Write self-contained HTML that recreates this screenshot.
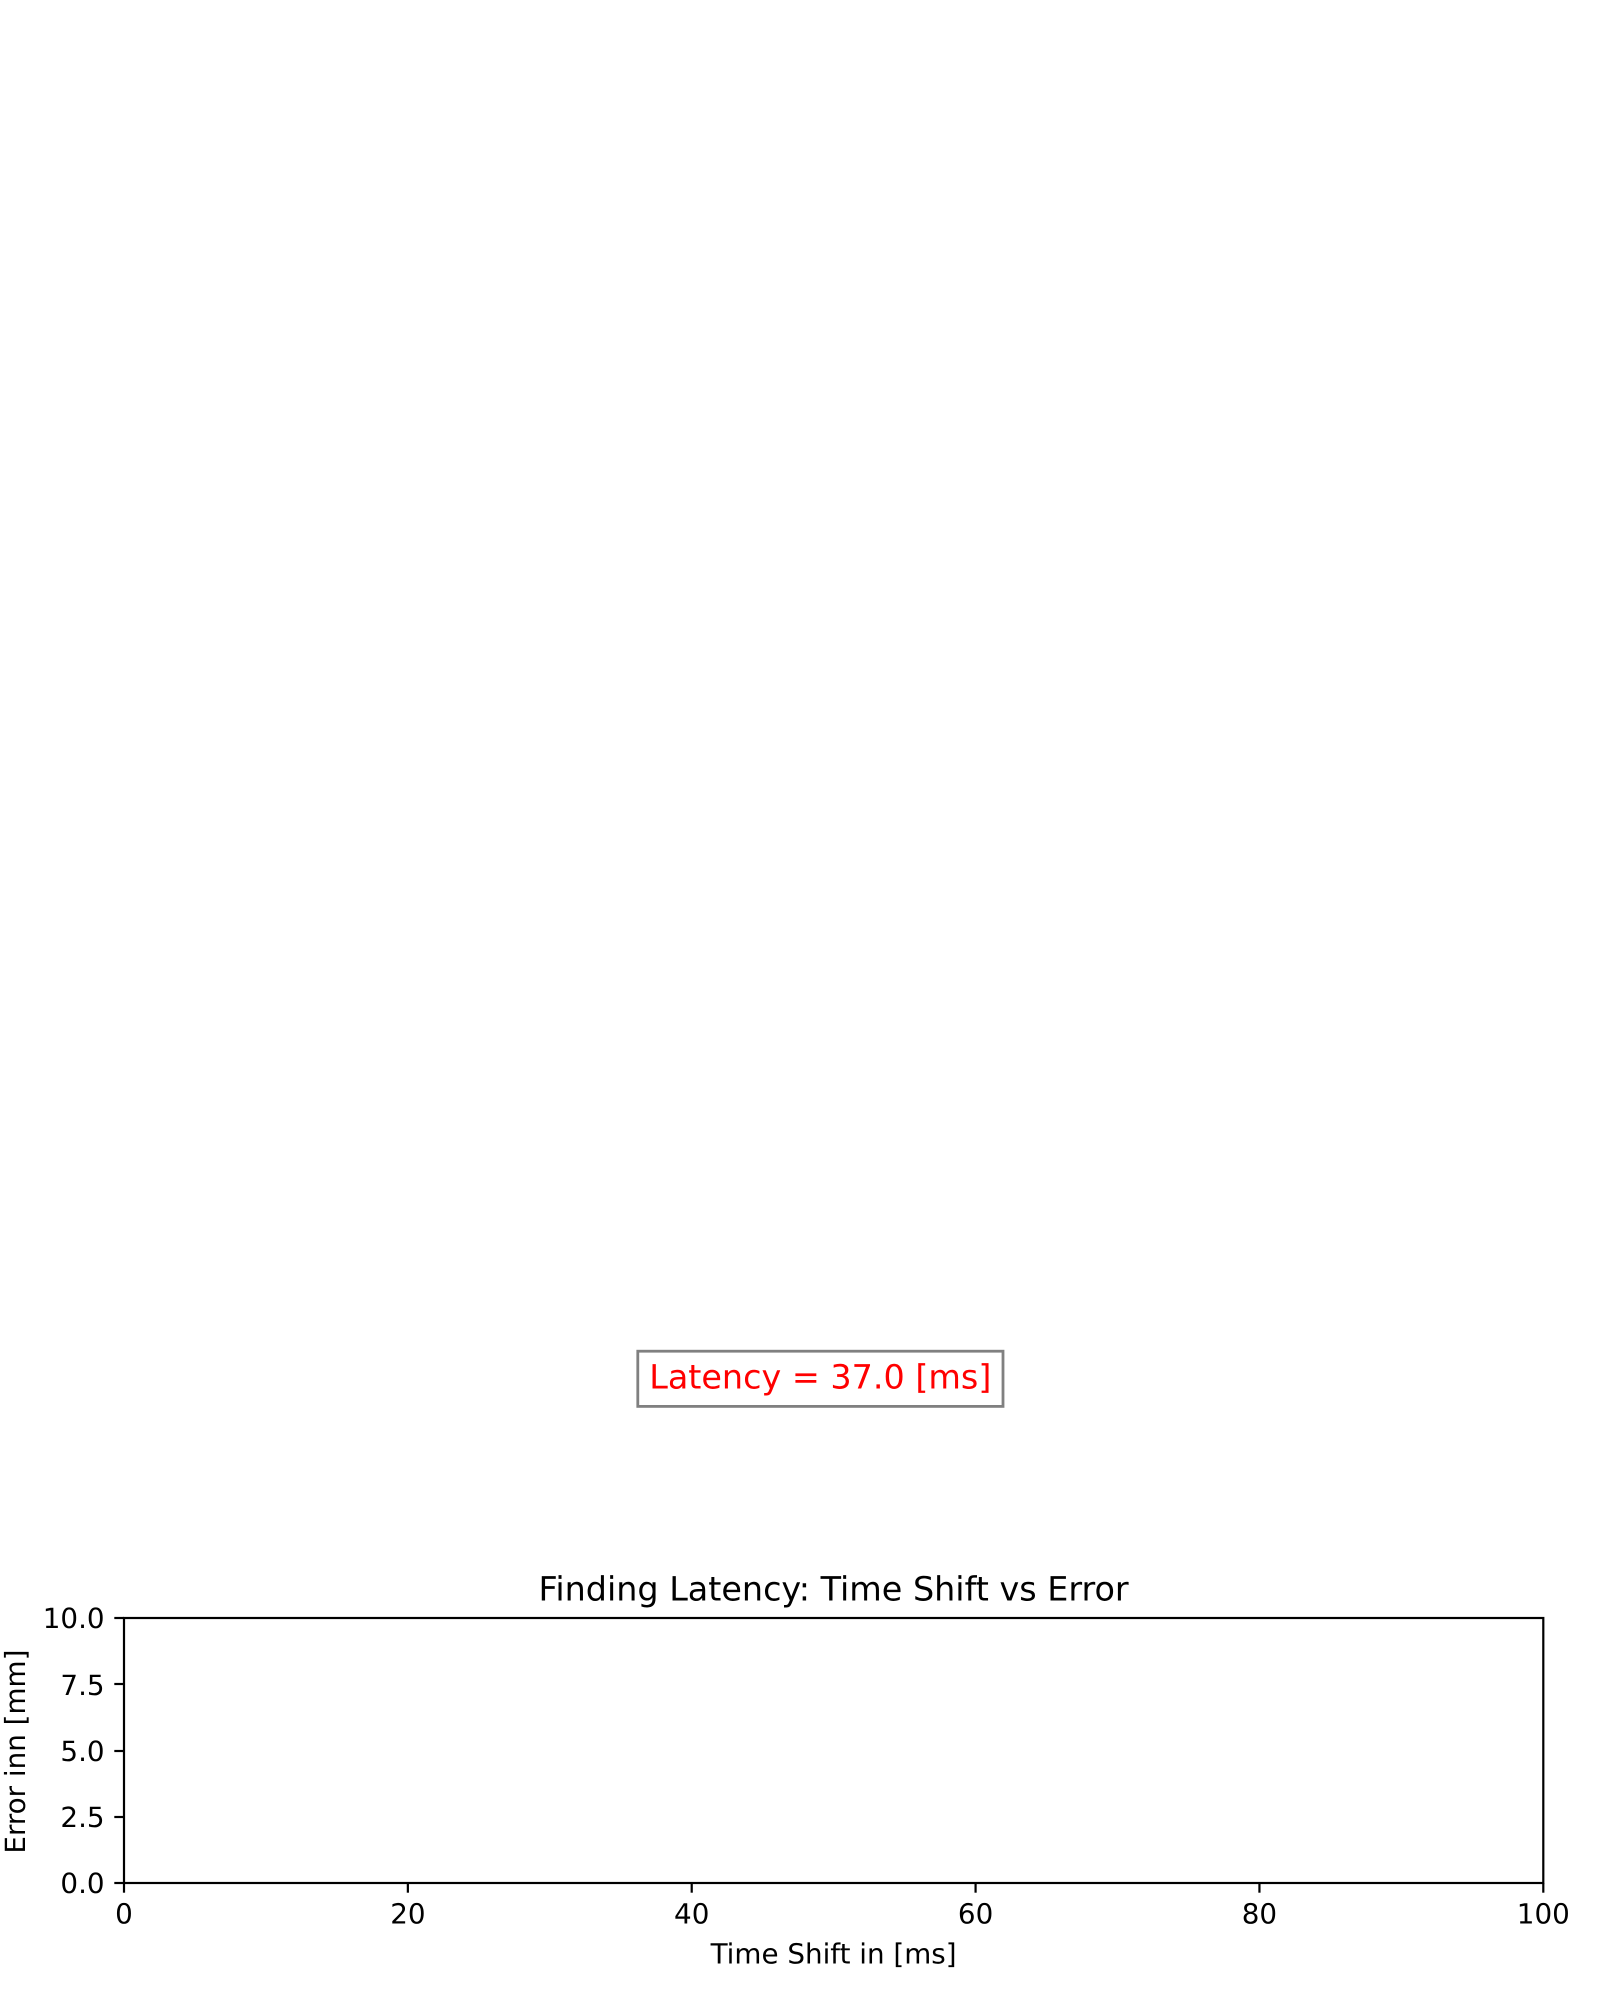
<!DOCTYPE html>
<html lang="en">
<head>
<meta charset="utf-8">
<title>Finding Latency: Time Shift vs Error</title>
<style>
  html, body { margin: 0; padding: 0; background: #fff; }
  body { width: 1600px; height: 2000px; overflow: hidden; }
  svg { display: block; }
  text { font-family: "DejaVu Sans", "Liberation Sans", sans-serif; fill: #000; text-rendering: geometricPrecision; }
</style>
</head>
<body>
<svg id="figure" xmlns="http://www.w3.org/2000/svg" width="1600" height="2000" viewBox="0 0 1600 2000">
  <rect x="0" y="0" width="1600" height="2000" fill="#ffffff"/>

  <g>
    <rect x="637.8" y="1351.2" width="365.2" height="55.2" fill="#ffffff" stroke="#808080" stroke-width="2.8"/>
    <text x="820.3" y="1388.3" font-size="33.4" text-anchor="middle" style="fill:#ff0000">Latency = 37.0 [ms]</text>
  </g>

  <text x="833.6" y="1600.7" font-size="33.4" text-anchor="middle">Finding Latency: Time Shift vs Error</text>

  <g id="x-ticks"></g>
  <g id="y-ticks"></g>

  <rect id="plot-frame" fill="none" stroke="#000000" stroke-width="2.2" stroke-linejoin="miter"/>

  <text x="833.6" y="1963.6" font-size="27.78" text-anchor="middle">Time Shift in [ms]</text>
  <text x="25" y="1751.6" font-size="27.78" text-anchor="middle" transform="rotate(-90 25 1751.6)">Error inn [mm]</text>
</svg>

<script>
const xTickValues = [0, 20, 40, 60, 80, 100];
const xTickLabels = ["0", "20", "40", "60", "80", "100"];
const yTickValues = [0, 2.5, 5, 7.5, 10];
const yTickLabels = ["0.0", "2.5", "5.0", "7.5", "10.0"];
const xDomain = [0, 100];
const yDomain = [0, 10];

const plotLeft = 124, plotRight = 1543.3, plotTop = 1618, plotBottom = 1883;
const tickLength = 9.7, tickPad = 9.7;
const svgNS = "http://www.w3.org/2000/svg";

function xScale(v) { return plotLeft + (v - xDomain[0]) / (xDomain[1] - xDomain[0]) * (plotRight - plotLeft); }
function yScale(v) { return plotBottom - (v - yDomain[0]) / (yDomain[1] - yDomain[0]) * (plotBottom - plotTop); }

const frame = document.getElementById("plot-frame");
frame.setAttribute("x", xScale(xDomain[0]));
frame.setAttribute("y", yScale(yDomain[1]));
frame.setAttribute("width", xScale(xDomain[1]) - xScale(xDomain[0]));
frame.setAttribute("height", yScale(yDomain[0]) - yScale(yDomain[1]));

const xGroup = document.getElementById("x-ticks");
xTickValues.forEach(function (v, i) {
  const line = document.createElementNS(svgNS, "line");
  
  
  line.setAttribute("x1", xScale(v));
  line.setAttribute("x2", xScale(v));
  line.setAttribute("y1", plotBottom);
  line.setAttribute("y2", plotBottom + tickLength);
  line.setAttribute("stroke", "#000");
  line.setAttribute("stroke-width", "2.2");
  xGroup.appendChild(line);

  const label = document.createElementNS(svgNS, "text");
  
  
  label.setAttribute("x", xScale(v));
  label.setAttribute("y", 1923.3);
  label.setAttribute("font-size", "27.78");
  label.setAttribute("text-anchor", "middle");
  label.textContent = xTickLabels[i];
  xGroup.appendChild(label);
});

const yGroup = document.getElementById("y-ticks");
yTickValues.forEach(function (v, i) {
  const py = Math.round(yScale(v));
  const line = document.createElementNS(svgNS, "line");
  
  
  line.setAttribute("x1", plotLeft - tickLength);
  line.setAttribute("x2", plotLeft);
  line.setAttribute("y1", py);
  line.setAttribute("y2", py);
  line.setAttribute("stroke", "#000");
  line.setAttribute("stroke-width", "2.2");
  yGroup.appendChild(line);

  const label = document.createElementNS(svgNS, "text");
  
  
  label.setAttribute("x", plotLeft - tickLength - tickPad);
  label.setAttribute("y", Math.round(yScale(v) + 10.3));
  label.setAttribute("font-size", "27.78");
  label.setAttribute("text-anchor", "end");
  label.textContent = yTickLabels[i];
  yGroup.appendChild(label);
});
</script>
</body>
</html>
